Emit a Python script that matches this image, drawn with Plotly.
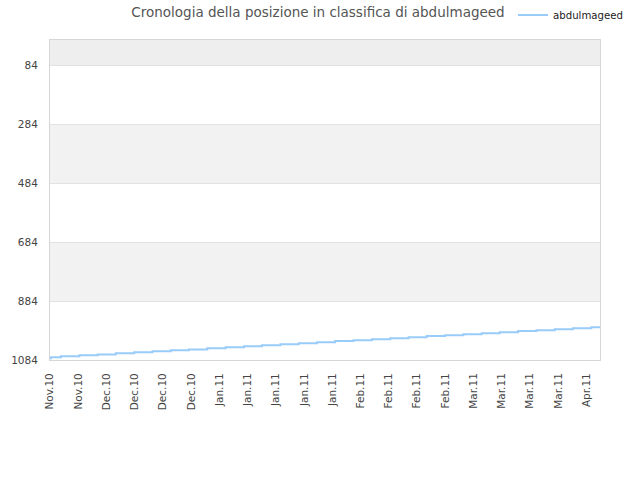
import plotly.graph_objects as go

tick_labels = ["Nov.10", "Nov.10", "Dec.10", "Dec.10", "Dec.10", "Dec.10",
               "Jan.11", "Jan.11", "Jan.11", "Jan.11", "Jan.11",
               "Feb.11", "Feb.11", "Feb.11", "Feb.11",
               "Mar.11", "Mar.11", "Mar.11", "Mar.11", "Apr.11"]
tick_pos = list(range(len(tick_labels)))

step_x = [0, 0.04, 0.39, 1.04, 1.69, 2.33, 2.98, 3.63, 4.28, 4.92, 5.57,
          6.22, 6.87, 7.51, 8.16, 8.81, 9.46, 10.10, 10.75, 11.40, 12.05,
          12.70, 13.34, 13.99, 14.64, 15.29, 15.93, 16.58, 17.23, 17.88,
          18.52, 19.17, 19.48]
ranks = [1078, 1075, 1071, 1068, 1065, 1061, 1058, 1054, 1051, 1048, 1044,
         1041, 1037, 1034, 1031, 1027, 1024, 1020, 1017, 1014, 1010,
         1007, 1003, 1000, 997, 993, 990, 986, 983, 980, 976, 973, 973]

y_ticks = [84, 284, 484, 684, 884, 1084]
bands = [(-1, 84, "#eeeeee"), (284, 484, "#f2f2f2"), (684, 884, "#f2f2f2")]

W, H = 640, 480

fig = go.Figure()
fig.add_trace(go.Scatter(
    x=step_x, y=ranks, mode="lines", name="abdulmageed",
    line=dict(color="#99ccf8", width=2, shape="hv"),
))

shapes = []
for y0, y1, c in bands:
    shapes.append(dict(type="rect", xref="paper", yref="y", x0=0, x1=1,
                       y0=y0, y1=y1, fillcolor=c, line=dict(width=0),
                       layer="below"))

fig.update_layout(
    width=W, height=H,
    margin=dict(l=50, r=40, t=40, b=120, autoexpand=False),
    paper_bgcolor="white", plot_bgcolor="white",
    shapes=shapes,
    title=dict(text="Cronologia della posizione in classifica di abdulmageed",
               x=318 / W, xref="container", xanchor="center",
               y=1 - 12 / H, yref="container", yanchor="middle",
               font=dict(family="DejaVu Sans", size=13.5, color="#555555")),
    legend=dict(x=628 / W, xref="container", xanchor="right",
                y=1 - 15 / H, yref="container", yanchor="middle",
                orientation="h", font=dict(family="DejaVu Sans Condensed", size=11.3, color="#222222"),
                bgcolor="rgba(0,0,0,0)", itemwidth=30),
    showlegend=True,
    font=dict(family="DejaVu Sans", size=10, color="#444444"),
)
fig.update_xaxes(
    range=[0, 19.48], tickmode="array", tickvals=tick_pos, ticktext=tick_labels,
    tickangle=-90, showgrid=False, zeroline=False, automargin=False,
    showline=True, linecolor="#d6d6d6", linewidth=1, mirror=True,
    ticks="", ticklabelstandoff=8, tickfont=dict(size=10.5, color="#444444"),
)
fig.update_yaxes(
    range=[1084, -1], tickmode="array", tickvals=y_ticks,
    ticktext=[str(v) for v in y_ticks], automargin=False,
    showgrid=True, gridcolor="#e2e2e2", gridwidth=1, zeroline=False,
    showline=True, linecolor="#d6d6d6", linewidth=1, mirror=True,
    ticks="", ticklabelstandoff=9, tickfont=dict(size=10.5, color="#444444"),
)

fig.write_html("out.html", config={"displayModeBar": False},
               post_script="document.body.style.margin='0';document.body.style.overflow='hidden';")
